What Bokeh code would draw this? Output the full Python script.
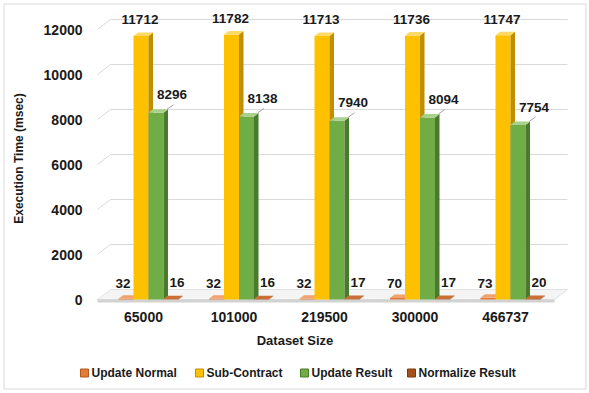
import math
from bokeh.plotting import figure
from bokeh.models import FixedTicker
from bokeh.core.properties import value
from bokeh.embed import file_html
from bokeh.resources import INLINE

# ---- data ----
sizes = ["65000", "101000", "219500", "300000", "466737"]
update_normal = [32, 32, 32, 70, 73]
sub_contract = [11712, 11782, 11713, 11736, 11747]
update_result = [8296, 8138, 7940, 8094, 7754]
normalize_result = [16, 16, 17, 17, 20]
series_names = ["Update Normal", "Sub-Contract", "Update Result", "Normalize Result"]
y_ticks = [0, 2000, 4000, 6000, 8000, 10000, 12000]
x_title = "Dataset Size"
y_title = "Execution Time (msec)"

# ---- geometry (canvas pixels) ----
W, H = 589, 393
PX_PER_CAT = 90.5          # pixels per category step
CAT1_PX = 143              # canvas x of first category
ZERO_PX = 299              # canvas y (from top) of value 0
PX_PER_12K = 270           # pixels for 12000 units
ux = 1 / PX_PER_CAT
uy = 12000 / PX_PER_12K
X0 = 1 - CAT1_PX * ux
X1 = X0 + W * ux
Y1 = ZERO_PX * uy
Y0 = Y1 - H * uy


def sx(px):
    return X0 + px * ux


def sy(px):
    return Y1 - px * uy


FONT = value("Liberation Sans")

p = figure(width=W, height=H, x_range=(X0, X1), y_range=(Y0, Y1),
           output_backend="svg", toolbar_location=None, min_border=0,
           background_fill_color="white", border_fill_color="white")
p.outline_line_color = None
p.grid.visible = False

# chart-area border
p.quad(left=[sx(3.5)], right=[sx(585.5)], top=[sy(3.5)], bottom=[sy(388.5)],
       fill_color=None, line_color="#d9d9d9", line_width=1)

AX_L, AX_R = sx(97), sx(567)

# ---- back-wall gridlines with 3D stub ----
gdx, gdy = 13 * ux, 10 * uy
gxs, gys = [], []
for t in y_ticks[1:]:
    gxs.append([AX_L, AX_L + gdx, AX_R])
    gys.append([t, t + gdy, t + gdy])
p.multi_line(gxs, gys, line_color="#d9d9d9", line_width=1)

# ---- floor ----
p.patch([AX_L, AX_R - gdx, AX_R, AX_L + gdx], [0, 0, gdy, gdy],
        fill_color="#f4f4f4", line_color="#e2e2e2", line_width=1)
p.patch([AX_L, AX_R - gdx, AX_R - gdx, AX_L], [0, 0, -3 * uy, -3 * uy],
        fill_color="#d2d2d2", line_color=None)

# ---- 3D bars ----
bw = 15 * ux
bdx, bdy = 4.5 * ux, 3.5 * uy
shift = 5 * ux
colors = [
    ("#E07B39", "#B35A20", "#F2A26E"),
    ("#FFC000", "#BF8F00", "#FFD966"),
    ("#70AD47", "#4A7A2C", "#A9D18E"),
    ("#A5501A", "#7A3A10", "#C96F35"),
]
series = [update_normal, sub_contract, update_result, normalize_result]
xs_cat = [i + 1 for i in range(len(sizes))]

for si, (vals, (cf, cs, ct)) in enumerate(zip(series, colors)):
    off = (-1.5 + si) * bw + shift
    cx = [x + off for x in xs_cat]
    p.vbar(x=cx, top=vals, bottom=0, width=bw, fill_color=cf, line_color=None)
    side_x = [[c + bw / 2, c + bw / 2 + bdx, c + bw / 2 + bdx, c + bw / 2] for c in cx]
    side_y = [[0, bdy, v + bdy, v] for v in vals]
    p.patches(side_x, side_y, fill_color=cs, line_color=None)
    top_x = [[c - bw / 2, c + bw / 2, c + bw / 2 + bdx, c - bw / 2 + bdx] for c in cx]
    top_y = [[v, v, v + bdy, v + bdy] for v in vals]
    p.patches(top_x, top_y, fill_color=ct, line_color=None)

# ---- data labels ----
lab_kw = dict(text_font=FONT, text_font_style="bold", text_font_size="13.5px",
              text_color="#1a1a1a", text_align="center", text_baseline="middle")
o = [(-1.5 + si) * bw + shift for si in range(4)]
p.text(x=[x + o[0] - 3 * ux for x in xs_cat], y=[16 * uy] * 5,
       text=[str(v) for v in update_normal], **lab_kw)
p.text(x=[x + o[1] - 1 * ux for x in xs_cat], y=[v + 16 * uy for v in sub_contract],
       text=[str(v) for v in sub_contract], **lab_kw)
p.text(x=[x + o[2] + 16 * ux for x in xs_cat], y=[v + 18 * uy for v in update_result],
       text=[str(v) for v in update_result], **lab_kw)
p.text(x=[x + o[3] + 6 * ux for x in xs_cat], y=[17 * uy] * 5,
       text=[str(v) for v in normalize_result], **lab_kw)
lx = [[x + o[2] + bw / 2 + bdx - 1 * ux, x + o[2] + bw / 2 + 10 * ux] for x in xs_cat]
ly = [[v + bdy, v + 8 * uy] for v in update_result]
p.multi_line(lx, ly, line_color="#a6a6a6", line_width=1)

# ---- axes (drawn inside the frame) ----
p.yaxis.fixed_location = AX_L
p.xaxis.fixed_location = 0
p.yaxis.ticker = FixedTicker(ticks=y_ticks)
p.xaxis.ticker = FixedTicker(ticks=xs_cat)
p.xaxis.major_label_overrides = {x: s for x, s in zip(xs_cat, sizes)}
for ax in (p.xaxis, p.yaxis):
    ax.axis_line_color = None
    ax.major_tick_line_color = None
    ax.minor_tick_line_color = None
    ax.major_tick_out = 0
    ax.major_tick_in = 0
    ax.minor_tick_out = 0
    ax.major_label_text_font = "Liberation Sans"
    ax.major_label_text_font_style = "bold"
    ax.major_label_text_font_size = "14px"
    ax.major_label_text_color = "#1a1a1a"
p.yaxis.major_label_standoff = 15
p.xaxis.major_label_standoff = 12
p.xaxis.axis_label = x_title
p.xaxis.axis_label_text_font = "Liberation Sans"
p.xaxis.axis_label_text_font_style = "bold"
p.xaxis.axis_label_text_font_size = "13px"
p.xaxis.axis_label_text_color = "#1a1a1a"
p.xaxis.axis_label_standoff = 8

# y title
p.text(x=[sx(18)], y=[sy(158)], text=[y_title], angle=math.pi / 2, text_font=FONT,
       text_font_style="bold", text_font_size="12px", text_color="#1a1a1a",
       text_align="center", text_baseline="middle")

# ---- legend ----
marker_px = [84, 199, 304, 411]
leg_y = sy(372.5)
p.scatter(x=[sx(m) for m in marker_px], y=[leg_y] * 4, marker="square", size=8,
          fill_color=[c[0] for c in colors], line_color=[c[1] for c in colors],
          line_width=1)
p.text(x=[sx(m + 7) for m in marker_px], y=[leg_y] * 4, text=series_names,
       text_font=FONT, text_font_style="bold", text_font_size="12px",
       text_color="#1a1a1a", text_align="left", text_baseline="middle")

open("out.html", "w").write(file_html(p, INLINE))
